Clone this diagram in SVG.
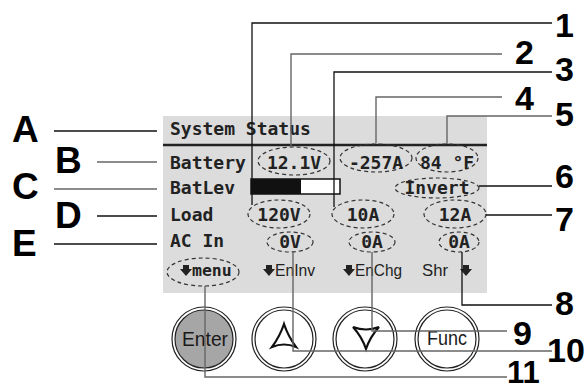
<svg xmlns="http://www.w3.org/2000/svg" width="588" height="390" viewBox="0 0 588 390">
<style>
.lcd{font-family:"DejaVu Sans Mono","Liberation Mono",monospace;font-weight:bold;font-size:18px;fill:#222}
.val{text-anchor:middle}
.sm{font-family:"Liberation Sans",Arial,sans-serif;font-size:16px;fill:#222}
.dash{fill:none;stroke:#333;stroke-width:1.2;stroke-dasharray:4 3}
.lbl{font-family:"Liberation Sans",Arial,sans-serif;font-weight:bold;font-size:37px;fill:#000}
.num{font-family:"Liberation Sans",Arial,sans-serif;font-weight:bold;font-size:34px;fill:#000}
.ln{fill:none;stroke:#111;stroke-width:1.3}
.lg{fill:none;stroke:#666;stroke-width:1.4}
.ring{fill:#fff;stroke:#222;stroke-width:1.2}
.btxt{font-family:"Liberation Sans",Arial,sans-serif;font-size:21px;fill:#1a1a1a}
.arr{fill:#222}
</style>

<g id="panel">
  <rect x="163" y="116" width="324" height="177" fill="#dcdcdc"/>
  <line x1="163" y1="145" x2="487" y2="145" stroke="#222" stroke-width="2.5"/>
  <text class="lcd" x="170" y="135">System Status</text>
  <text class="lcd" x="170" y="169">Battery</text>
  <text class="lcd" x="170" y="194">BatLev</text>
  <text class="lcd" x="170" y="221">Load</text>
  <text class="lcd" x="170" y="247">AC In</text>
</g>

<g id="battery-bar">
  <rect x="251" y="179" width="89" height="15" fill="#fff" stroke="#111" stroke-width="1.5"/>
  <rect x="251" y="179" width="50" height="15" fill="#111"/>
</g>

<g id="values">
  <ellipse class="dash" cx="294" cy="161" rx="36" ry="14"/>
  <text class="lcd val" x="294" y="169">12.1V</text>
  <ellipse class="dash" cx="376" cy="158" rx="36" ry="14"/>
  <text class="lcd val" x="376" y="169">-257A</text>
  <ellipse class="dash" cx="447" cy="158" rx="31" ry="14"/>
  <text class="lcd val" x="447" y="169">84 °F</text>
  <ellipse class="dash" cx="437" cy="188" rx="42" ry="10"/>
  <text class="lcd val" x="437" y="194">Invert</text>
  <ellipse class="dash" cx="279" cy="214" rx="31" ry="14"/>
  <text class="lcd val" x="279" y="221">120V</text>
  <ellipse class="dash" cx="363" cy="214" rx="31" ry="14"/>
  <text class="lcd val" x="363" y="221">10A</text>
  <ellipse class="dash" cx="455" cy="214" rx="31" ry="14"/>
  <text class="lcd val" x="455" y="221">12A</text>
  <ellipse class="dash" cx="290" cy="242" rx="23" ry="10"/>
  <text class="lcd val" x="290" y="248">0V</text>
  <ellipse class="dash" cx="372" cy="242" rx="23" ry="10"/>
  <text class="lcd val" x="372" y="248">0A</text>
  <ellipse class="dash" cx="459" cy="242" rx="20" ry="10"/>
  <text class="lcd val" x="459" y="248">0A</text>
</g>

<g id="menu-row">
  <ellipse class="dash" cx="203" cy="272" rx="36" ry="14"/>
  <polygon class="arr" points="183,265 189,265 189,269 192,269 186,276 180,269 183,269"/>
  <text class="lcd" x="192" y="276" style="font-size:16.5px">menu</text>
  <polygon class="arr" points="266,265 272,265 272,269 275,269 269,276 263,269 266,269"/>
  <text class="sm" x="275" y="276" textLength="40" lengthAdjust="spacingAndGlyphs">EnInv</text>
  <polygon class="arr" points="346,265 352,265 352,269 355,269 349,276 343,269 346,269"/>
  <text class="sm" x="355" y="276" textLength="47" lengthAdjust="spacingAndGlyphs">EnChg</text>
  <text class="sm" x="422" y="276" textLength="26" lengthAdjust="spacingAndGlyphs">Shr</text>
  <polygon class="arr" points="463,265 469,265 469,269 472,269 466,276 460,269 463,269"/>
</g>

<g id="btn-enter">
  <circle class="ring" cx="204" cy="339" r="32"/>
  <circle cx="204" cy="339" r="29" fill="#a6a6a6" stroke="#222" stroke-width="1.2"/>
  <text class="btxt" x="205" y="346" text-anchor="middle" textLength="46" lengthAdjust="spacingAndGlyphs">Enter</text>
</g>
<g id="btn-up">
  <circle class="ring" cx="284" cy="339" r="32"/>
  <circle cx="284" cy="339" r="29" fill="none" stroke="#222" stroke-width="1.2"/>
  <path d="M284,324 Q288,336 296,347 Q284,342 272,347 Q280,336 284,324Z" fill="none" stroke="#111" stroke-width="2.2" stroke-linejoin="miter"/>
</g>
<g id="btn-down">
  <circle class="ring" cx="365" cy="339" r="32"/>
  <circle cx="365" cy="339" r="29" fill="none" stroke="#222" stroke-width="1.2"/>
  <path d="M353,327 Q366,332 379,327 Q370,337 366,349 Q362,337 353,327Z" fill="none" stroke="#111" stroke-width="2.2"/>
</g>
<g id="btn-func">
  <circle class="ring" cx="447" cy="339" r="32"/>
  <circle cx="447" cy="339" r="29" fill="none" stroke="#222" stroke-width="1.2"/>
  <text class="btxt" x="447" y="345" text-anchor="middle" textLength="40" lengthAdjust="spacingAndGlyphs">Func</text>
</g>

<g id="connectors">
  <path class="ln" d="M54,131 H157"/>
  <path class="lg" d="M97,162 H157"/>
  <path class="lg" d="M54,189 H157"/>
  <path class="ln" d="M97,216 H157"/>
  <path class="ln" d="M54,244 H157"/>
  <path class="ln" d="M552,23 H252 V205"/>
  <path class="lg" d="M502,54 H291 V146"/>
  <path class="ln" d="M552,72 H334 V207"/>
  <path class="lg" d="M502,97 H376 V143"/>
  <path class="lg" d="M552,116 H447 V144"/>
  <path class="ln" d="M479,186 H552"/>
  <path class="ln" d="M486,215 H552"/>
  <path class="ln" d="M462,252 V305 H552"/>
  <path class="lg" d="M372,252 V331 H507"/>
  <path class="lg" d="M293,252 V351 H552"/>
  <path class="lg" d="M205,286 V377 H507"/>
</g>

<g id="labels">
  <text class="lbl" x="12" y="142">A</text>
  <text class="lbl" x="55" y="173">B</text>
  <text class="lbl" x="12" y="199">C</text>
  <text class="lbl" x="55" y="228">D</text>
  <text class="lbl" x="12" y="256">E</text>
  <text class="num" x="555" y="37">1</text>
  <text class="num" x="515" y="64">2</text>
  <text class="num" x="555" y="81">3</text>
  <text class="num" x="515" y="110">4</text>
  <text class="num" x="555" y="126">5</text>
  <text class="num" x="555" y="188">6</text>
  <text class="num" x="555" y="231">7</text>
  <text class="num" x="555" y="315">8</text>
  <text class="num" x="513" y="345">9</text>
  <text class="num" x="547" y="362">10</text>
  <text class="num" x="507" y="383" style="font-size:31px">11</text>
</g>
</svg>
